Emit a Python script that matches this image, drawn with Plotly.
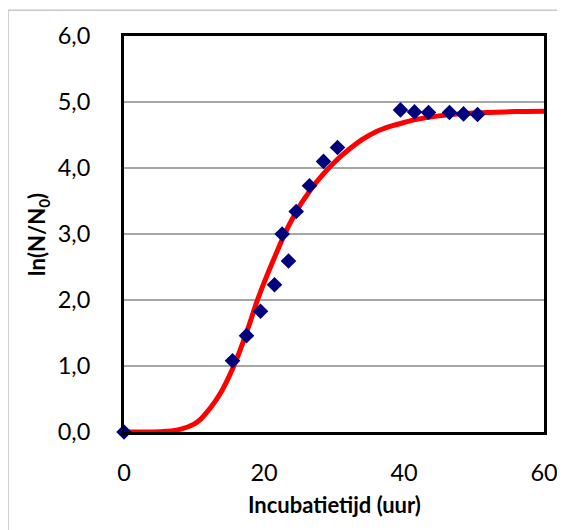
import plotly.graph_objects as go

# Measured data points
meas_t = [0, 15.5, 17.5, 19.5, 21.5, 22.6, 23.5, 24.6, 26.5, 28.5, 30.5, 39.5, 41.5, 43.5, 46.5, 48.5, 50.5]
meas_y = [0.0, 1.08, 1.46, 1.83, 2.23, 3.00, 2.59, 3.34, 3.73, 4.10, 4.31, 4.88, 4.85, 4.84, 4.84, 4.82, 4.81]

# Fitted model curve
fit_t = [0, 4, 6, 8, 10, 11, 12, 13, 14, 15, 16, 17, 18, 19, 20, 21, 22, 23, 24, 25, 26, 27, 28, 29, 30,
         31, 32, 34, 36, 38, 40, 42, 45, 48, 52, 56, 60]
fit_y = [0.0, 0.0, 0.01, 0.04, 0.12, 0.20, 0.32, 0.46, 0.63, 0.84, 1.08, 1.36, 1.66, 1.98, 2.26, 2.52,
         2.77, 3.01, 3.22, 3.41, 3.57, 3.72, 3.85, 3.97, 4.08, 4.18, 4.27, 4.43, 4.55, 4.63, 4.69, 4.74,
         4.79, 4.82, 4.84, 4.855, 4.86]

y_ticks = [0, 1, 2, 3, 4, 5, 6]
y_tick_text = ["0,0", "1,0", "2,0", "3,0", "4,0", "5,0", "6,0"]
x_ticks = [0, 20, 40, 60]
x_tick_text = ["0", "20", "40", "60"]

x_title = "Incubatietijd (uur)"
y_title = "ln(N/N<sub>0</sub>)"

font_family = "Lato, 'Open Sans', sans-serif"

fig = go.Figure()
fig.add_trace(go.Scatter(
    x=fit_t, y=fit_y, mode="lines",
    line=dict(color="#FF0000", width=5, shape="spline", smoothing=1.0),
    cliponaxis=False, showlegend=False, hoverinfo="skip",
))
fig.add_trace(go.Scatter(
    x=meas_t, y=meas_y, mode="markers",
    marker=dict(symbol="diamond", size=12, color="#00007F", line=dict(width=0)),
    cliponaxis=False, showlegend=False,
))

fig.update_layout(
    width=557, height=522,
    margin=dict(l=116, r=21, t=28, b=98, autoexpand=False),
    paper_bgcolor="white", plot_bgcolor="white",
    font=dict(family=font_family, color="black", size=23),
    shapes=[dict(type="rect", xref="paper", yref="paper",
                 x0=-0.276, x1=1.3, y0=-0.5, y1=1.065,
                 line=dict(color="#C8C8C8", width=1.5), fillcolor="rgba(0,0,0,0)", layer="below")],
    annotations=[
        dict(text="<b>" + x_title + "</b>", xref="paper", yref="paper", x=0.5, y=-0.1826,
             xanchor="center", yanchor="middle", showarrow=False,
             font=dict(size=22, family=font_family, color="black")),
        dict(text="<b>" + y_title + "</b>", xref="paper", yref="paper", x=-0.205, y=0.5,
             xanchor="center", yanchor="middle", textangle=-90, showarrow=False,
             font=dict(size=22, family=font_family, color="black")),
    ],
)
fig.update_xaxes(
    range=[0, 60], tickvals=x_ticks, ticktext=x_tick_text,
    showgrid=False, zeroline=False,
    showline=True, linecolor="black", linewidth=3, mirror=True,
    ticks="", ticklabelstandoff=18,
    tickfont=dict(size=23.5, family=font_family),
)
fig.update_yaxes(
    range=[0, 6], tickvals=y_ticks, ticktext=y_tick_text,
    showgrid=True, gridcolor="#A6A6A6", gridwidth=1.5, zeroline=False,
    showline=True, linecolor="black", linewidth=3, mirror=True,
    ticks="", ticklabelstandoff=26,
    tickfont=dict(size=23.5, family=font_family),
)

fig.write_html("out.html")
